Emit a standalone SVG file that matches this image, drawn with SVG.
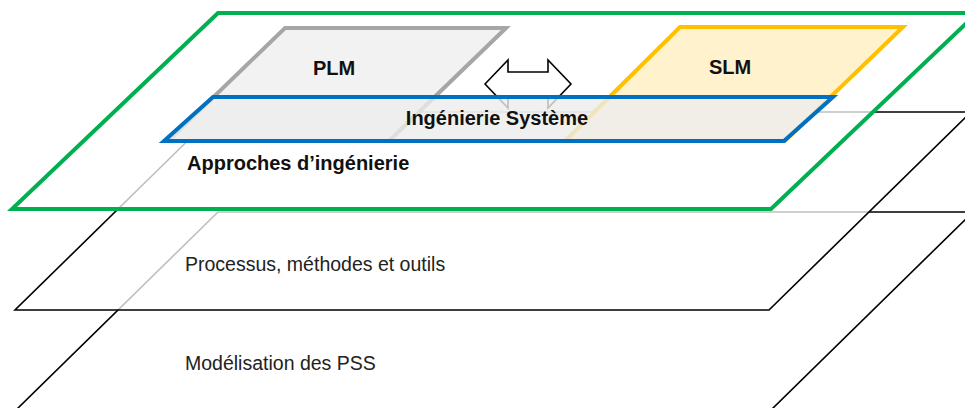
<svg xmlns="http://www.w3.org/2000/svg" width="965" height="408" viewBox="0 0 965 408">
  <style>
    .layer { fill: #ffffff; fill-opacity: 0.75; stroke: #000000; stroke-width: 1.6; stroke-linejoin: miter; }
    .green { fill: #ffffff; fill-opacity: 0.75; stroke: #00b050; stroke-width: 4; stroke-linejoin: miter; }
    .plm { fill: #f2f2f2; stroke: #a6a6a6; stroke-width: 4; stroke-linejoin: miter; }
    .slm { fill: #fff2cc; stroke: #ffc000; stroke-width: 4; stroke-linejoin: miter; }
    .is { fill: #ececec; fill-opacity: 0.8; stroke: #0070c0; stroke-width: 4; stroke-linejoin: miter; }
    .arrow { fill: #ffffff; stroke: #000000; stroke-width: 1.6; stroke-linejoin: miter; }
    .bold { font-family: "Liberation Sans", Arial, sans-serif; font-weight: bold; font-size: 20px; fill: #111111; }
    .reg { font-family: "Liberation Sans", Arial, sans-serif; font-size: 19.5px; fill: #222222; }
  </style>

  <g id="layer-modelisation">
    <polygon class="layer" points="218,212 973,212 770,411 15,411"/>
    <text class="reg" x="185" y="370">Modélisation des PSS</text>
  </g>

  <g id="layer-processus">
    <polygon class="layer" points="217,112 971,112 769,310 15,310"/>
    <text class="reg" x="185" y="271">Processus, méthodes et outils</text>
  </g>

  <g id="layer-approches">
    <polygon class="green" points="218,13 977,13 771,209 12,209"/>
    <text class="bold" x="187" y="170">Approches d’ingénierie</text>
  </g>

  <g id="plm">
    <polygon class="plm" points="285,28 506,28 389,141 168,141"/>
    <text class="bold" x="334" y="75" text-anchor="middle">PLM</text>
  </g>

  <g id="slm">
    <polygon class="slm" points="680,27 903,27 785,141 565,141"/>
    <text class="bold" x="730" y="74" text-anchor="middle">SLM</text>
  </g>

  <g id="connectors">
    <polygon class="arrow" points="485,84 508,60 508,72 548,72 548,60 571,84 548,108 548,97 508,97 508,108"/>
  </g>

  <g id="ingenierie-systeme">
    <polygon class="is" points="213,97 833,97 784,141 164,141"/>
    <text class="bold" x="497" y="125" text-anchor="middle">Ingénierie Système</text>
  </g>
</svg>
